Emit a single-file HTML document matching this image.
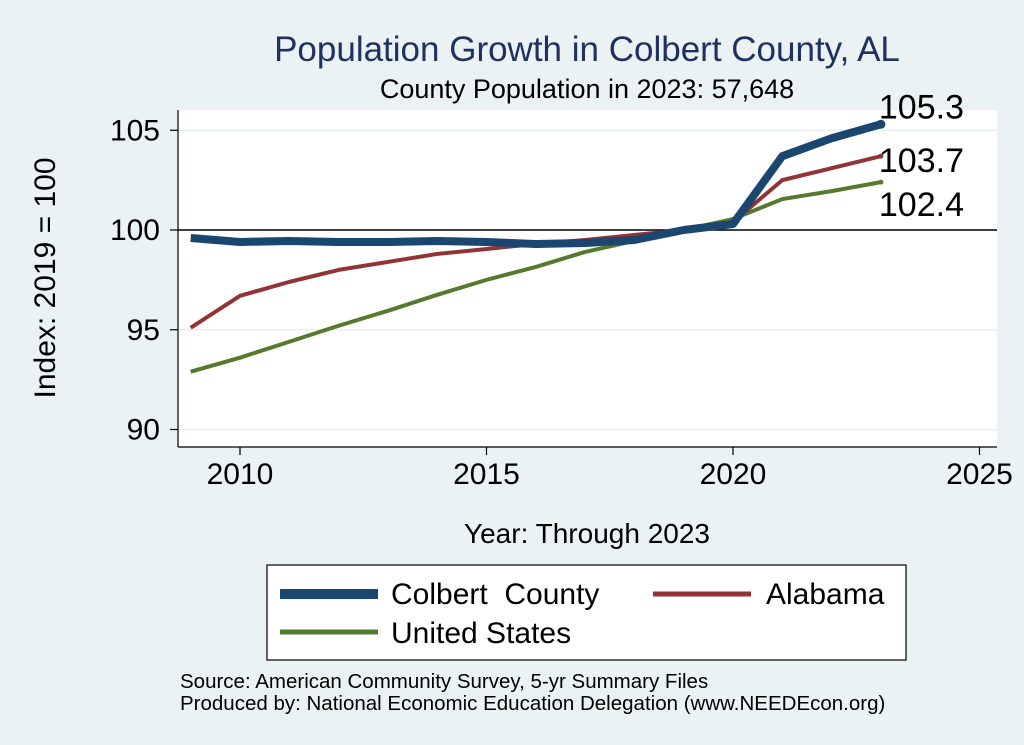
<!DOCTYPE html>
<html><head><meta charset="utf-8"><style>
body{margin:0;background:#eaf2f3;font-family:"Liberation Sans",Arial,sans-serif}
svg{display:block}
</style></head><body>
<svg width="1024" height="745" viewBox="0 0 1024 745">
<rect x="0" y="0" width="1024" height="745" fill="#eaf2f3"/>
<text x="587" y="61" font-size="35" fill="#1e3160" text-anchor="middle">Population Growth in Colbert County, AL</text>
<text x="587" y="98" font-size="27" fill="#000" text-anchor="middle">County Population in 2023: 57,648</text>
<rect x="178" y="110" width="819" height="337" fill="#fff"/>
<g id="grid"></g>
<g id="axes"></g>
<g id="series"></g>
<text transform="translate(55,278) rotate(-90)" font-size="30" text-anchor="middle">Index: 2019 = 100</text>
<text x="587" y="543" font-size="28" text-anchor="middle">Year: Through 2023</text>
<g>
<rect x="267" y="565" width="639" height="95" fill="#fff" stroke="#000" stroke-width="1.2"/>
<line x1="280" y1="594" x2="378" y2="594" stroke="#1a4670" stroke-width="10"/>
<text x="391" y="604" font-size="30" xml:space="preserve">Colbert  County</text>
<line x1="653" y1="594" x2="751" y2="594" stroke="#923336" stroke-width="5"/>
<text x="766" y="604" font-size="30">Alabama</text>
<line x1="280" y1="632" x2="378" y2="632" stroke="#557a2d" stroke-width="5"/>
<text x="391" y="643" font-size="30">United States</text>
</g>
<text x="180" y="688" font-size="20.5">Source: American Community Survey, 5-yr Summary Files</text>
<text x="180" y="710" font-size="20.5">Produced by: National Economic Education Delegation (www.NEEDEcon.org)</text>
</svg>
<script>
const years=[2009,2010,2011,2012,2013,2014,2015,2016,2017,2018,2019,2020,2021,2022,2023];
const colbert=[99.6,99.4,99.45,99.4,99.4,99.45,99.4,99.3,99.35,99.5,100.0,100.3,103.7,104.6,105.3];
const alabama=[95.1,96.7,97.4,98.0,98.4,98.8,99.05,99.3,99.5,99.75,100.0,100.4,102.5,103.1,103.7];
const usa=[92.9,93.6,94.4,95.2,95.95,96.75,97.5,98.15,98.9,99.45,100.0,100.55,101.55,101.95,102.4];
const xTicks=[2010,2015,2020,2025];
const yTicks=[90,95,100,105];
const NS="http://www.w3.org/2000/svg";
const X=y=>240+(y-2010)*49.3;
const Y=v=>230-(v-100)*19.95;
function mk(tag,attrs,parent){const e=document.createElementNS(NS,tag);for(const k in attrs)e.setAttribute(k,attrs[k]);parent.appendChild(e);return e;}
const grid=document.getElementById('grid'),axes=document.getElementById('axes'),ser=document.getElementById('series');
yTicks.forEach(t=>{
 const g=mk('line',{x1:178,x2:997,y1:Y(t),y2:Y(t),stroke:t===100?'#000':'#e6eeee','stroke-width':t===100?1.5:1.2},grid);
 
 
 const tk=mk('line',{x1:170,x2:178,y1:Y(t),y2:Y(t),stroke:'#000','stroke-width':1.2},axes);
 
 
 const l=mk('text',{x:160,y:Y(t)+10,'font-size':30,'text-anchor':'end'},axes);l.textContent=t;
 
 
});
mk('line',{x1:178,x2:178,y1:110,y2:447,stroke:'#000','stroke-width':1.2},axes);
mk('line',{x1:178,x2:997,y1:447,y2:447,stroke:'#000','stroke-width':1.2},axes);
xTicks.forEach(t=>{
 const tk=mk('line',{x1:X(t),x2:X(t),y1:447,y2:455,stroke:'#000','stroke-width':1.2},axes);
 
 
 const l=mk('text',{x:X(t),y:484,'font-size':30,'text-anchor':'middle'},axes);l.textContent=t;
 
 
});
function line(vals,color,w,name,labelY){
 const d=vals.map((v,i)=>(i?'L':'M')+X(years[i])+','+Y(v)).join(' ');
 const p=mk('path',{d:d,fill:'none',stroke:color,'stroke-width':w,'stroke-linejoin':'round'},ser);
 
 
 const last=vals[vals.length-1];
 const c=mk('circle',{cx:X(years[years.length-1]),cy:Y(last),r:w/2+0.5,fill:color},ser);
 
 
 const t=mk('text',{x:X(years[years.length-1])-2,y:Y(last)+labelY,'font-size':34},ser);t.textContent=last.toFixed(1);
 
 
}
line(usa,'#557a2d',4,'us',34);
line(alabama,'#923336',4,'alabama',16);
line(colbert,'#1a4670',8,'colbert',-6);
</script>
</body></html>
